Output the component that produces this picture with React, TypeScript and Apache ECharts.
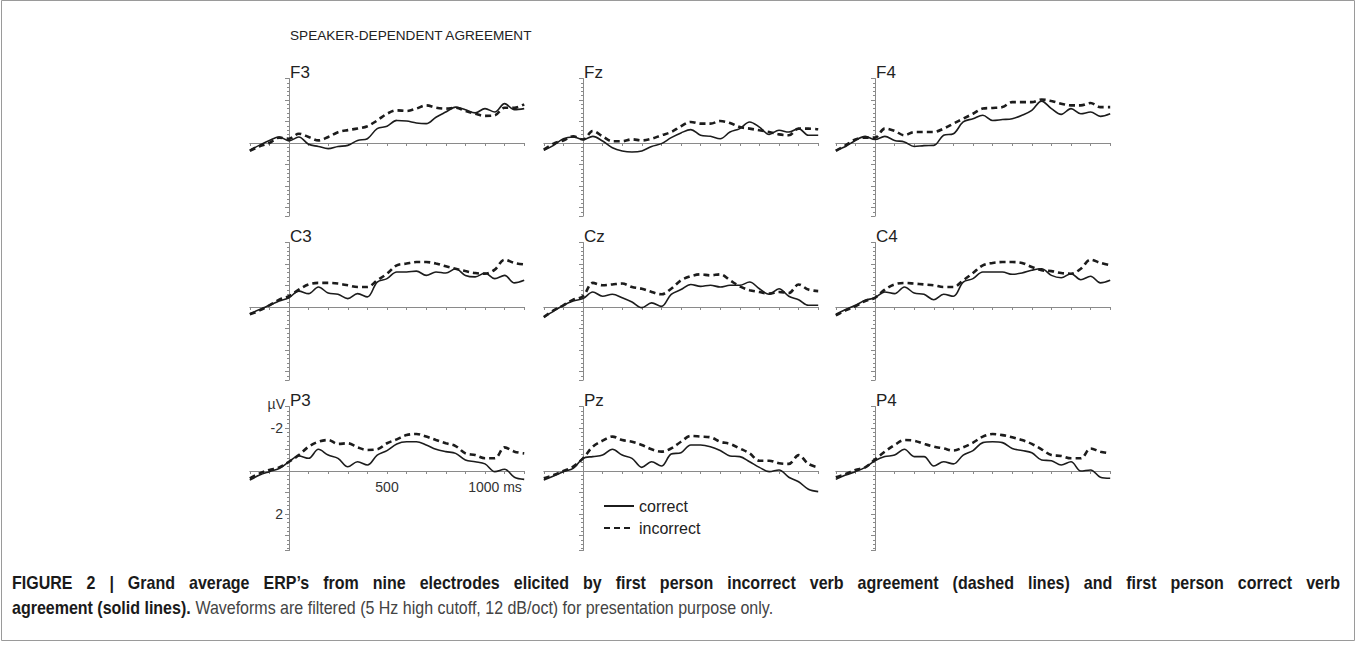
import React, { useEffect, useRef } from "react";
import * as echarts from "echarts";

// ---------- DATA ----------
const TIMES = [-200, -150, -100, -50, 0, 50, 100, 150, 200, 250, 300, 350, 400, 450, 500, 550, 600, 650, 700, 750, 800, 850, 900, 950, 1000, 1050, 1100, 1150, 1200];
const ELECTRODES = ["F3", "Fz", "F4", "C3", "Cz", "C4", "P3", "Pz", "P4"];
const X_TICK_LABELS = [500, 1000];
const Y_TICK_LABELS = [-2, 2];

// µV values (negative plotted upward)
const F3_correct = [0.34, 0.1, -0.12, -0.28, -0.1, -0.28, 0.06, 0.16, 0.26, 0.16, 0.11, -0.12, -0.2, -0.67, -0.78, -1.05, -1.02, -0.93, -0.9, -1.2, -1.44, -1.67, -1.55, -1.4, -1.6, -1.44, -1.83, -1.55, -1.6];
const F3_incorrect = [0.37, 0.15, 0, -0.25, -0.2, -0.43, -0.28, -0.12, -0.28, -0.5, -0.6, -0.67, -0.78, -1.05, -1.36, -1.52, -1.49, -1.6, -1.75, -1.64, -1.6, -1.64, -1.49, -1.36, -1.26, -1.29, -1.64, -1.64, -1.8];
const Fz_correct = [0.34, 0.11, -0.2, -0.28, -0.16, -0.31, -0.09, 0.22, 0.37, 0.42, 0.37, 0.16, 0.03, -0.25, -0.47, -0.62, -0.36, -0.31, -0.2, -0.51, -0.67, -0.98, -0.74, -0.4, -0.59, -0.51, -0.67, -0.36, -0.36];
const Fz_incorrect = [0.31, 0.03, -0.12, -0.31, -0.16, -0.56, -0.31, -0.08, -0.08, -0.17, -0.12, -0.2, -0.36, -0.51, -0.78, -0.98, -0.9, -0.9, -1.02, -0.93, -0.74, -0.67, -0.59, -0.51, -0.4, -0.36, -0.67, -0.67, -0.64];
const F4_correct = [0.34, 0.16, -0.12, -0.31, -0.16, -0.31, -0.12, -0.05, 0.16, 0.12, 0.11, -0.36, -0.43, -0.98, -1.13, -1.29, -1.05, -1.09, -1.13, -1.29, -1.52, -1.95, -1.6, -1.33, -1.6, -1.36, -1.44, -1.24, -1.36];
const F4_incorrect = [0.37, 0.11, -0.16, -0.25, -0.25, -0.67, -0.56, -0.36, -0.51, -0.51, -0.51, -0.67, -0.9, -1.13, -1.36, -1.6, -1.63, -1.67, -1.9, -1.9, -1.9, -2.02, -1.95, -1.83, -1.75, -1.75, -1.86, -1.67, -1.67];
const C3_correct = [0.31, 0.12, -0.08, -0.28, -0.43, -0.74, -0.62, -0.93, -0.65, -0.59, -0.39, -0.62, -0.47, -1.16, -1.32, -1.63, -1.63, -1.67, -1.47, -1.63, -1.58, -1.78, -1.47, -1.4, -1.58, -1.32, -1.47, -1.12, -1.24];
const C3_incorrect = [0.34, 0.16, -0.08, -0.34, -0.5, -0.81, -1.05, -1.12, -1.12, -1.09, -1.01, -0.93, -0.93, -1.24, -1.55, -1.94, -2.02, -2.09, -2.09, -2.02, -1.89, -1.78, -1.67, -1.58, -1.55, -1.74, -2.2, -2.05, -1.98];
const Cz_correct = [0.47, 0.19, -0.08, -0.28, -0.39, -0.7, -0.5, -0.59, -0.43, -0.23, 0.03, -0.19, -0.03, -0.59, -0.81, -1.05, -0.96, -1.01, -0.93, -1.01, -1.01, -1.16, -0.85, -0.59, -0.85, -0.5, -0.34, -0.08, -0.08];
const Cz_incorrect = [0.47, 0.16, -0.08, -0.34, -0.5, -1.12, -1.01, -1.05, -1.09, -0.93, -0.85, -0.7, -0.59, -0.85, -1.24, -1.43, -1.52, -1.47, -1.52, -1.24, -0.96, -0.78, -0.7, -0.62, -0.7, -0.65, -1.05, -0.81, -0.74];
const C4_correct = [0.34, 0.12, -0.08, -0.31, -0.43, -0.7, -0.62, -0.93, -0.65, -0.59, -0.34, -0.59, -0.5, -1.16, -1.32, -1.63, -1.63, -1.63, -1.52, -1.58, -1.71, -1.78, -1.47, -1.36, -1.55, -1.27, -1.43, -1.12, -1.24];
const C4_incorrect = [0.39, 0.16, -0.03, -0.28, -0.43, -0.81, -1.05, -1.12, -1.09, -1.05, -1.01, -0.93, -0.93, -1.24, -1.58, -1.94, -2.05, -2.09, -2.09, -2.05, -1.86, -1.71, -1.67, -1.58, -1.55, -1.78, -2.2, -2.05, -1.94];
const P3_correct = [0.42, 0.19, 0.03, -0.12, -0.43, -0.7, -0.59, -1.01, -0.74, -0.59, -0.2, -0.43, -0.28, -0.74, -0.95, -1.26, -1.36, -1.36, -1.21, -1.01, -0.9, -0.82, -0.51, -0.43, -0.33, 0.03, -0.08, 0.29, 0.39];
const P3_incorrect = [0.34, 0.11, -0.05, -0.17, -0.43, -0.74, -1.13, -1.36, -1.44, -1.26, -1.29, -1.1, -0.98, -1.01, -1.29, -1.47, -1.67, -1.72, -1.6, -1.44, -1.29, -1.16, -0.82, -0.74, -0.59, -0.59, -1.1, -0.9, -0.82];
const Pz_correct = [0.42, 0.23, 0.03, -0.12, -0.59, -0.67, -0.74, -1.01, -0.74, -0.59, -0.17, -0.43, -0.23, -0.79, -0.85, -1.21, -1.21, -1.13, -0.95, -0.7, -0.67, -0.43, -0.17, 0.03, -0.05, 0.29, 0.5, 0.85, 0.96];
const Pz_incorrect = [0.34, 0.19, 0, -0.2, -0.59, -1.13, -1.41, -1.6, -1.44, -1.36, -1.21, -1.01, -0.9, -1.05, -1.36, -1.63, -1.6, -1.57, -1.36, -1.26, -1.05, -0.82, -0.48, -0.48, -0.36, -0.33, -0.74, -0.33, -0.17];
const P4_correct = [0.39, 0.19, 0.03, -0.17, -0.48, -0.67, -0.74, -1.01, -0.67, -0.67, -0.23, -0.43, -0.33, -0.74, -0.95, -1.32, -1.36, -1.32, -1.05, -0.95, -0.85, -0.51, -0.48, -0.28, -0.43, 0, -0.05, 0.29, 0.34];
const P4_incorrect = [0.29, 0.14, -0.05, -0.17, -0.54, -0.9, -1.21, -1.44, -1.41, -1.26, -1.13, -1.05, -0.95, -1.1, -1.32, -1.6, -1.72, -1.67, -1.57, -1.44, -1.26, -1.01, -0.74, -0.7, -0.59, -0.59, -1.05, -0.9, -0.82];

const CORRECT = [F3_correct, Fz_correct, F4_correct, C3_correct, Cz_correct, C4_correct, P3_correct, Pz_correct, P4_correct];
const INCORRECT = [F3_incorrect, Fz_incorrect, F4_incorrect, C3_incorrect, Cz_incorrect, C4_incorrect, P3_incorrect, Pz_incorrect, P4_incorrect];

const TITLE = "SPEAKER-DEPENDENT AGREEMENT";
const CAPTION_BOLD_1 = "FIGURE 2 | Grand average ERP\u2019s from nine electrodes elicited by first person incorrect verb agreement (dashed lines) and first person correct verb";
const CAPTION_BOLD_2 = "agreement (solid lines).";
const CAPTION_REST_2 = " Waveforms are filtered (5 Hz high cutoff, 12 dB/oct) for presentation purpose only.";

// ---------- LAYOUT ----------
const W = 1357;
const H = 647;
const COL_ZERO_X = [289, 583, 875];
const ROW_ZERO_Y = [143, 307, 471];
const PX_PER_MS = 0.196;
const PX_PER_UV = 21.5;
const X_MIN = -200;
const X_MAX = 1200;
const Y_MIN = -3;
const Y_MAX_ROW = [3.4, 3.4, 3.7];
const FONT = "'Liberation Sans', Arial, sans-serif";
const CAPTION_SIZE = 18;
const CAPTION_SCALE_X = 0.89;
const CAPTION_LEFT = 12;
const CAPTION_RIGHT = 1340;
const INK = "#1c1c1c";
const AXIS_GRAY = "#8a8a8a";

function measure(text: string, font: string): number {
  const c = document.createElement("canvas").getContext("2d");
  if (!c) return text.length * 8;
  c.font = font;
  return c.measureText(text).width;
}

export default function App() {
  const ref = useRef<HTMLDivElement>(null);
  useEffect(() => {
    if (!ref.current) return;
    const chart = echarts.init(ref.current, undefined, { renderer: "svg" });

    const grids: any[] = [];
    const xAxes: any[] = [];
    const yAxes: any[] = [];
    const series: any[] = [];
    const graphics: any[] = [];

    ELECTRODES.forEach((name, i) => {
      const col = i % 3;
      const row = Math.floor(i / 3);
      const zx = COL_ZERO_X[col];
      const zy = ROW_ZERO_Y[row];
      const left = zx + X_MIN * PX_PER_MS;
      const width = (X_MAX - X_MIN) * PX_PER_MS;
      const top = zy + Y_MIN * PX_PER_UV;
      const height = (Y_MAX_ROW[row] - Y_MIN) * PX_PER_UV;
      const isLabelled = i === 6;
      grids.push({ left, top, width, height, containLabel: false });
      xAxes.push({
        type: "value",
        gridIndex: i,
        min: X_MIN,
        max: X_MAX,
        interval: 100,
        position: "bottom",
        offset: -(top + height - zy),
        axisLine: { show: true, onZero: false, lineStyle: { color: AXIS_GRAY, width: 1 } },
        axisTick: { show: true, length: 3, lineStyle: { color: AXIS_GRAY } },
        splitLine: { show: false },
        axisLabel: {
          show: isLabelled,
          margin: 9,
          fontSize: 14,
          fontFamily: FONT,
          color: "#333",
          formatter: (v: number) => {
            if (!X_TICK_LABELS.includes(v)) return "";
            return v === 1000 ? "{a|" + v + " ms}" : String(v);
          },
          rich: { a: { fontSize: 14, fontFamily: FONT, color: "#333", padding: [0, 0, 0, 20] } },
        },
      });
      yAxes.push({
        type: "value",
        gridIndex: i,
        inverse: true,
        min: Y_MIN,
        max: Y_MAX_ROW[row],
        interval: 1,
        position: "left",
        offset: -(zx - left),
        axisLine: { show: true, onZero: false, lineStyle: { color: AXIS_GRAY, width: 1 } },
        axisTick: { show: true, length: 4, lineStyle: { color: AXIS_GRAY } },
        minorTick: { show: true, splitNumber: 5, length: 2, lineStyle: { color: AXIS_GRAY } },
        splitLine: { show: false },
        minorSplitLine: { show: false },
        axisLabel: {
          show: isLabelled,
          margin: 6,
          fontSize: 14,
          fontFamily: FONT,
          color: "#333",
          formatter: (v: number) => (Y_TICK_LABELS.includes(v) ? String(v) : ""),
        },
      });
      const correctData = TIMES.map((t, k) => [t, CORRECT[i][k]]);
      const incorrectData = TIMES.map((t, k) => [t, INCORRECT[i][k]]);
      series.push({
        name: "correct",
        type: "line",
        xAxisIndex: i,
        yAxisIndex: i,
        data: correctData,
        showSymbol: false,
        symbol: "none",
        smooth: 0.35,
        lineStyle: { color: INK, width: 1.6 },
        itemStyle: { color: INK },
        z: 3,
      });
      series.push({
        name: "incorrect",
        type: "line",
        xAxisIndex: i,
        yAxisIndex: i,
        data: incorrectData,
        showSymbol: false,
        symbol: "none",
        smooth: 0.35,
        lineStyle: { color: INK, width: 2.6, type: [6, 4] },
        itemStyle: { color: INK },
        z: 4,
      });
      graphics.push({
        type: "text",
        x: zx + 1,
        y: top + 2,
        style: { text: name, font: `17px ${FONT}`, fill: "#222", textVerticalAlign: "bottom", textAlign: "left" },
      });
      if (isLabelled) {
        graphics.push({
          type: "text",
          x: zx - 4,
          y: top + 4,
          style: { text: "\u00b5V", font: `14px ${FONT}`, fill: "#333", textVerticalAlign: "bottom", textAlign: "right" },
        });
      }
    });

    graphics.push({
      type: "rect",
      shape: { x: 1.5, y: 0.5, width: W - 4, height: 640 },
      style: { fill: "none", stroke: "#9a9a9a", lineWidth: 1 },
      silent: true,
    });
    graphics.push({
      type: "text",
      x: 290,
      y: 35,
      style: { text: TITLE, font: `13.6px ${FONT}`, fill: "#222", textVerticalAlign: "middle", textAlign: "left" },
    });

    // Caption line 1 is justified to the full width (slightly condensed letters)
    const boldFont = `bold ${CAPTION_SIZE}px 'Liberation Sans'`;
    const words = CAPTION_BOLD_1.split(" ");
    const widths = words.map((w) => measure(w, boldFont) * CAPTION_SCALE_X);
    const total = widths.reduce((a, b) => a + b, 0);
    const gap = (CAPTION_RIGHT - CAPTION_LEFT - total) / (words.length - 1);
    let cx = CAPTION_LEFT;
    words.forEach((w, k) => {
      graphics.push({
        type: "text",
        x: cx,
        y: 583,
        scaleX: CAPTION_SCALE_X,
        style: { text: w, font: `bold ${CAPTION_SIZE}px ${FONT}`, fill: "#1a1a1a", textVerticalAlign: "middle", textAlign: "left" },
      });
      cx += widths[k] + gap;
    });
    graphics.push({
      type: "text",
      x: CAPTION_LEFT,
      y: 608,
      scaleX: CAPTION_SCALE_X,
      style: {
        text: "{b|" + CAPTION_BOLD_2 + "}{n|" + CAPTION_REST_2 + "}",
        textVerticalAlign: "middle",
        textAlign: "left",
        rich: {
          b: { font: `bold ${CAPTION_SIZE}px ${FONT}`, fill: "#1a1a1a" },
          n: { font: `${CAPTION_SIZE}px ${FONT}`, fill: "#444" },
        },
      },
    });

    chart.setOption({
      animation: false,
      backgroundColor: "#ffffff",
      grid: grids,
      xAxis: xAxes,
      yAxis: yAxes,
      series,
      legend: {
        data: ["correct", "incorrect"],
        orient: "vertical",
        left: 603,
        top: 498,
        padding: 0,
        itemWidth: 30,
        itemHeight: 14,
        itemGap: 6,
        itemStyle: { opacity: 0 },
        textStyle: { fontSize: 16, fontFamily: FONT, color: "#222", lineHeight: 16 },
        selectedMode: false,
      },
      graphic: graphics,
    });
    return () => chart.dispose();
  }, []);
  return <div ref={ref} style={{ position: "absolute", left: 0, top: 0, width: W, height: H }} />;
}
